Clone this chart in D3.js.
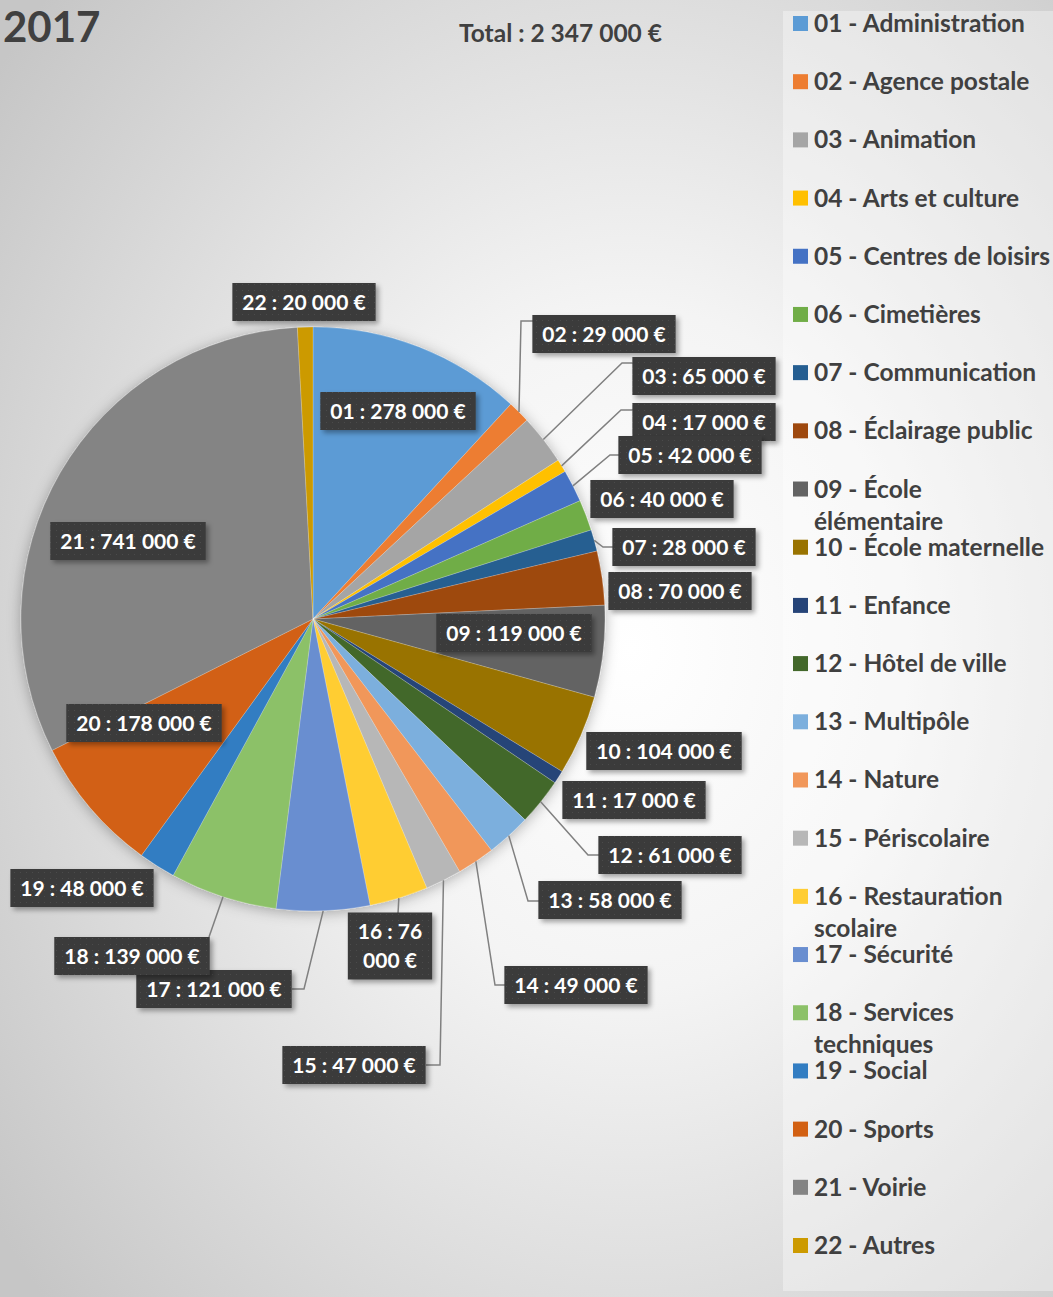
<!DOCTYPE html>
<html><head><meta charset="utf-8">
<script src="https://cdn.jsdelivr.net/npm/d3@7/dist/d3.min.js"></script>
<style>html,body{margin:0;padding:0;background:#fff;}svg{display:block;}</style>
</head><body>
<script>
// ---- data ----
const codes = ["01","02","03","04","05","06","07","08","09","10","11","12","13","14","15","16","17","18","19","20","21","22"];
const names = ["Administration","Agence postale","Animation","Arts et culture","Centres de loisirs","Cimetières","Communication","Éclairage public","École élémentaire","École maternelle","Enfance","Hôtel de ville","Multipôle","Nature","Périscolaire","Restauration scolaire","Sécurité","Services techniques","Social","Sports","Voirie","Autres"];
const values = [278000,29000,65000,17000,42000,40000,28000,70000,119000,104000,17000,61000,58000,49000,47000,76000,121000,139000,48000,178000,741000,20000];
const colors = ["#5B9BD5","#ED7D31","#A5A5A5","#FFC000","#4472C4","#70AD47","#255E91","#9E480E","#636363","#997300","#264478","#43682B","#7CAFDD","#F1975A","#B7B7B7","#FFCD33","#698ED0","#8CC168","#327DC2","#D26012","#848484","#CC9A00"];
const titleText = "2017";
const totalLabel = "Total : ";

// ---- layout (label box centres and leader attach points) ----
const labelCenters = [[398,411],[604,334],[704,376],[704,422],[690,455],[662,499],[684,547],[680,591],[514,633],[664,751],[634,800],[670,855],[610,900],[576,985],[354,1065],[390,946],[214,989],[132,956],[82,888],[144,723],[128,541],[304,302]];
const leaders = {1:[533,321,-12],2:[634,363,-12],3:[633,410,-12],4:[619,455,-9],6:[613,547,-10],11:[599,855,-11],12:[539,901,-11],13:[505,985,-10],14:[426,1065,14],15:[398,913,0],16:[292,989,12],17:[209,937,0]};
const wrapLabel = {15:["16 : 76","000 €"]};

const W = 1053, H = 1297;
const cx = 313, cy = 619, R = 292;
const FONT = "Lato, 'Open Sans', sans-serif";
const fmt = v => d3.format(",")(v).replace(/,/g," ") + " €";

const svg = d3.select("body").append("svg").attr("width",W).attr("height",H);
const defs = svg.append("defs");
const bg = defs.append("radialGradient").attr("id","bg").attr("cx","0.6").attr("cy","0.5").attr("r","0.75");
bg.append("stop").attr("offset","0").attr("stop-color","#ffffff");
bg.append("stop").attr("offset","0.35").attr("stop-color","#f4f4f4");
bg.append("stop").attr("offset","1").attr("stop-color","#c6c6c6");
const pat = defs.append("pattern").attr("id","dots").attr("width",6).attr("height",6).attr("patternUnits","userSpaceOnUse");
pat.append("rect").attr("width",6).attr("height",6).attr("fill","#3a3a3a");
pat.append("rect").attr("x",2).attr("y",2).attr("width",1).attr("height",1).attr("fill","#4c4c4c");
const sh = defs.append("filter").attr("id","sh").attr("x","-20%").attr("y","-20%").attr("width","150%").attr("height","160%");
sh.append("feDropShadow").attr("dx",3).attr("dy",3).attr("stdDeviation",2.5).attr("flood-color","#000").attr("flood-opacity",0.35);
const psh = defs.append("filter").attr("id","psh").attr("x","-20%").attr("y","-20%").attr("width","140%").attr("height","140%");
psh.append("feDropShadow").attr("dx",0).attr("dy",2).attr("stdDeviation",7).attr("flood-color","#000").attr("flood-opacity",0.3);

svg.append("rect").attr("width",W).attr("height",H).attr("fill","url(#bg)");

// title
svg.append("text").attr("x",3).attr("y",42).attr("font-family",FONT).attr("font-weight","bold")
  .attr("font-size",42).attr("fill","#404040").text(titleText);
svg.append("text").attr("x",459).attr("y",42).attr("font-family",FONT).attr("font-weight","bold")
  .attr("font-size",24.5).attr("fill","#404040").text(totalLabel + fmt(d3.sum(values)));

// legend
const LFS = 24.5;
const lg = svg.append("g");
lg.append("rect").attr("x",783).attr("y",11).attr("width",W-783).attr("height",1280).attr("fill","#ffffff").attr("opacity",0.35);
const rowY = d3.scaleLinear().domain([0,21]).range([24,1246]);
codes.forEach((c,i)=>{
  const y = rowY(i);
  lg.append("rect").attr("x",793).attr("y",y-8).attr("width",15).attr("height",15).attr("fill",colors[i]);
  const full = c + " - " + names[i];
  const t = lg.append("text").attr("x",814).attr("y",y+8).attr("font-family",FONT).attr("font-weight","bold")
    .attr("font-size",LFS).attr("fill","#404040");
  const words = full.split(" ");
  let line = [], lines = [];
  const probe = lg.append("text").attr("font-family",FONT).attr("font-weight","bold").attr("font-size",LFS);
  words.forEach(w=>{
    const test = line.concat([w]).join(" ");
    probe.text(test);
    if (probe.node().getComputedTextLength() > 239 && line.length) { lines.push(line.join(" ")); line=[w]; }
    else line.push(w);
  });
  lines.push(line.join(" "));
  probe.remove();
  lines.forEach((l,k)=>t.append("tspan").attr("x",814).attr("dy",k?32:0).text(l));
});

// pie
const pie = d3.pie().sort(null).value(d=>d)(values);
const arc = d3.arc().innerRadius(0).outerRadius(R);
const pg = svg.append("g").attr("transform",`translate(${cx},${cy})`);
pg.append("g").attr("filter","url(#psh)").selectAll("path").data(pie).join("path")
  .attr("d",arc).attr("fill",(d,i)=>colors[i]).attr("stroke","rgba(255,255,255,0.35)").attr("stroke-width",0.6);

// leader lines
const lines = svg.append("g").attr("fill","none").attr("stroke","#808080").attr("stroke-width",1.5);
pie.forEach((d,i)=>{
  if (!leaders[i]) return;
  const a = (d.startAngle + d.endAngle)/2;
  const p0 = [cx + R*Math.sin(a), cy - R*Math.cos(a)];
  const [ax,ay,dx] = leaders[i];
  lines.append("polyline").attr("points",[p0,[ax+dx,ay],[ax,ay]].map(p=>p.join(",")).join(" "));
});

// labels
const lab = svg.append("g");
pie.forEach((d,i)=>{
  const [x,y] = labelCenters[i];
  const g = lab.append("g");
  const txt = wrapLabel[i] || [codes[i] + " : " + fmt(values[i])];
  const t = g.append("text").attr("font-family",FONT).attr("font-weight","bold").attr("font-size",21)
    .attr("fill","#fff").attr("text-anchor","middle");
  const lh = 29;
  txt.forEach((s,k)=>t.append("tspan").attr("x",x).attr("y",y + 7.5 - (txt.length-1)*lh/2 + k*lh).text(s));
  const bb = t.node().getBBox();
  const bw = bb.width + 20, bh = txt.length>1 ? 67 : 38;
  g.insert("rect","text").attr("x",x-bw/2).attr("y",y-bh/2).attr("width",bw).attr("height",bh)
    .attr("fill","url(#dots)").attr("filter","url(#sh)");
});
</script>
</body></html>
